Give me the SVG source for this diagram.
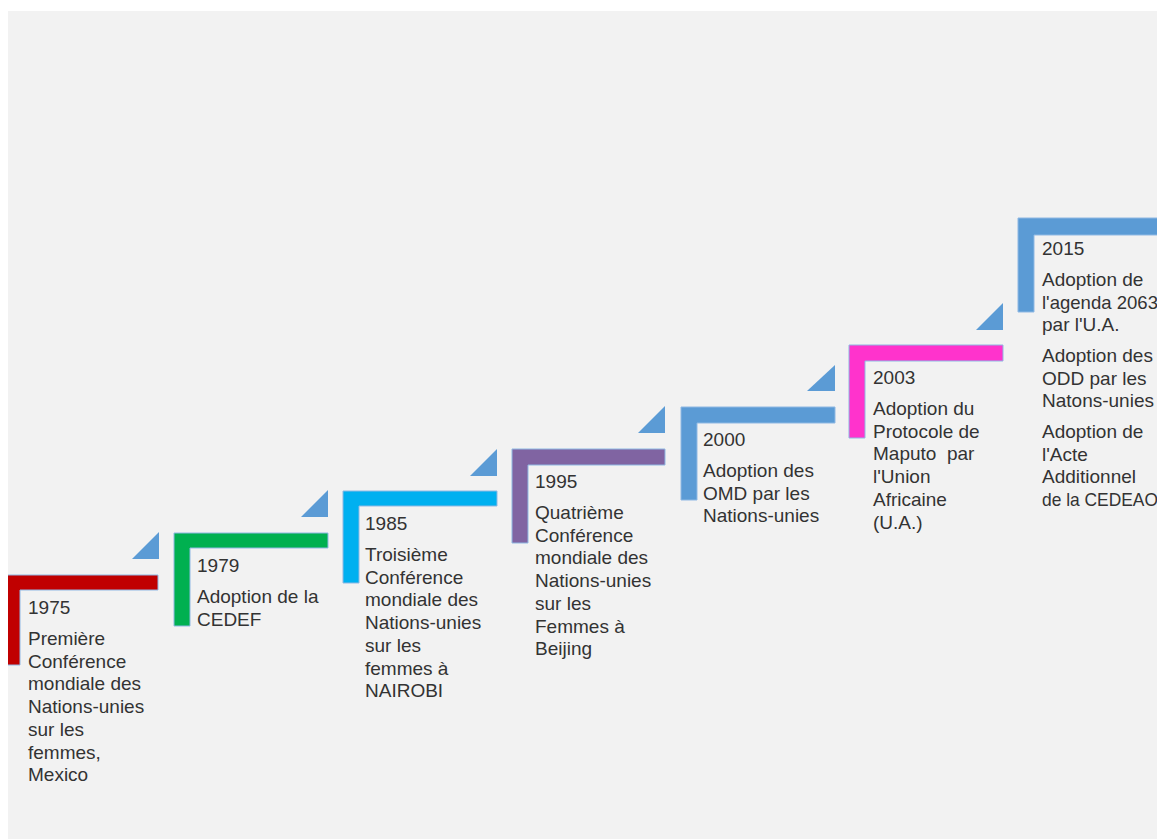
<svg xmlns="http://www.w3.org/2000/svg" width="1157" height="839" viewBox="0 0 1157 839">
<defs>
<style>
.frame{stroke:#8fb8e3;stroke-width:1}
.tri{fill:#5b9bd5}
text{font-family:"Liberation Sans",Arial,sans-serif;font-size:19px;fill:#333333;white-space:pre}
</style>
<clipPath id="panel"><rect x="8" y="11" width="1149" height="828"/></clipPath>
</defs>
<rect x="0" y="0" width="1157" height="839" fill="#ffffff"/>
<rect x="8" y="11" width="1149" height="828" fill="#f2f2f2"/>
<g clip-path="url(#panel)">
<g id="connectors">
<polygon class="tri" points="132,559 159,532 159,559"/>
<polygon class="tri" points="301,517 328,490 328,517"/>
<polygon class="tri" points="470,476 497,449 497,476"/>
<polygon class="tri" points="638,433 665,406 665,433"/>
<polygon class="tri" points="807,391 835,365 835,391"/>
<polygon class="tri" points="976,330 1003,303 1003,330"/>
</g>
<g id="n1975">
<path class="frame" fill="#c00000" d="M4,575 H158 V590 H20 V665 H4 Z"/>
<text x="28" y="614">1975</text>
<text x="28" y="645">Première</text>
<text x="28" y="667.7">Conférence</text>
<text x="28" y="690.4">mondiale des</text>
<text x="28" y="713.1">Nations-unies</text>
<text x="28" y="735.8">sur les</text>
<text x="28" y="758.5">femmes,</text>
<text x="28" y="781.2">Mexico</text>
</g>
<g id="n1979">
<path class="frame" fill="#00b050" d="M174,533 H328 V548 H190 V626 H174 Z"/>
<text x="197" y="572">1979</text>
<text x="197" y="603">Adoption de la</text>
<text x="197" y="625.7">CEDEF</text>
</g>
<g id="n1985">
<path class="frame" fill="#00b0f0" d="M343,491 H497 V506 H359 V583 H343 Z"/>
<text x="365" y="530">1985</text>
<text x="365" y="561">Troisième</text>
<text x="365" y="583.7">Conférence</text>
<text x="365" y="606.4">mondiale des</text>
<text x="365" y="629.1">Nations-unies</text>
<text x="365" y="651.8">sur les</text>
<text x="365" y="674.5">femmes à</text>
<text x="365" y="697.2">NAIROBI</text>
</g>
<g id="n1995">
<path class="frame" fill="#8064a2" d="M512,449 H665 V465 H528 V543 H512 Z"/>
<text x="535" y="488">1995</text>
<text x="535" y="519">Quatrième</text>
<text x="535" y="541.7">Conférence</text>
<text x="535" y="564.4">mondiale des</text>
<text x="535" y="587.1">Nations-unies</text>
<text x="535" y="609.8">sur les</text>
<text x="535" y="632.5">Femmes à</text>
<text x="535" y="655.2">Beijing</text>
</g>
<g id="n2000">
<path class="frame" fill="#5b9bd5" d="M681,407 H835 V423 H697 V500 H681 Z"/>
<text x="703" y="446">2000</text>
<text x="703" y="477">Adoption des</text>
<text x="703" y="499.7">OMD par les</text>
<text x="703" y="522.4">Nations-unies</text>
</g>
<g id="n2003">
<path class="frame" fill="#ff33cc" d="M849,345 H1003 V361 H865 V438 H849 Z"/>
<text x="873" y="384">2003</text>
<text x="873" y="415">Adoption du</text>
<text x="873" y="437.7">Protocole de</text>
<text x="873" y="460.4">Maputo  par</text>
<text x="873" y="483.1">l'Union</text>
<text x="873" y="505.8">Africaine</text>
<text x="873" y="528.5">(U.A.)</text>
</g>
<g id="n2015">
<path class="frame" fill="#5b9bd5" d="M1018,218 H1170 V235 H1034 V312 H1018 Z"/>
<text x="1042" y="255">2015</text>
<text x="1042" y="286">Adoption de</text>
<text x="1042" y="308.7" textLength="116" lengthAdjust="spacingAndGlyphs">l'agenda 2063</text>
<text x="1042" y="331.4">par l'U.A.</text>
<text x="1042" y="362">Adoption des</text>
<text x="1042" y="384.7">ODD par les</text>
<text x="1042" y="407.4">Natons-unies</text>
<text x="1042" y="438">Adoption de</text>
<text x="1042" y="460.7">l'Acte</text>
<text x="1042" y="483.4">Additionnel</text>
<text x="1042" y="506.1" textLength="116" lengthAdjust="spacingAndGlyphs">de la CEDEAO</text>
</g>
</g>
</svg>
